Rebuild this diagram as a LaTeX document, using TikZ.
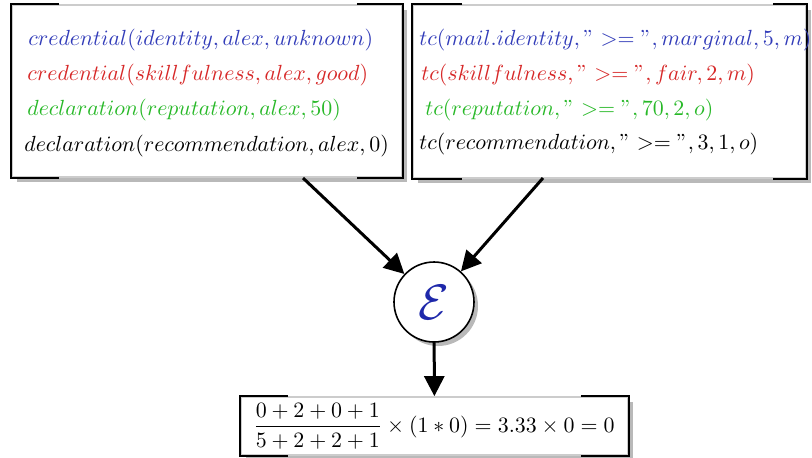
\documentclass[tikz,border=0pt]{standalone}
\usetikzlibrary{shadows,arrows.meta}
\definecolor{cblue}{RGB}{50,60,185}
\definecolor{cred}{RGB}{215,40,40}
\definecolor{cgreen}{RGB}{40,185,40}
\definecolor{eblue}{RGB}{30,40,170}
\begin{document}
\begin{tikzpicture}[x=0.5pt,y=-0.5pt,
  box/.style={rectangle, draw=black!20, line width=0.9pt, fill=white, inner sep=0pt,
    drop shadow={shadow xshift=2.5pt, shadow yshift=-2.5pt, opacity=0.55}},
  corner/.style={line width=1pt, black, line join=miter},
  tline/.style={anchor=base west, inner sep=0pt, font=\fontsize{10.7}{12}\selectfont},
  arr/.style={line width=1.5pt, -{Triangle[length=10pt,width=10pt]}},
  ecirc/.style={circle, draw, line width=0.8pt, fill=white, minimum size=40pt, inner sep=0pt,
    drop shadow={shadow xshift=2pt, shadow yshift=-2pt, opacity=0.55}}
]
\useasboundingbox (0,0) rectangle (812,457);

% left box
\node[box, minimum width=195pt, minimum height=86pt] (L) at (207,91) {};
\draw[corner] ([xshift=24pt]L.north west) -- (L.north west) -- (L.south west) -- ([xshift=24pt]L.south west);
\draw[corner] ([xshift=-23pt]L.north east) -- (L.north east) -- (L.south east) -- ([xshift=-23pt]L.south east);
\node[tline, cblue]  (l1) at (28,45)  {$credential(identity,alex,unknown)$};
\node[tline, cred]   (l2) at (27,80)  {$credential(skillfulness,alex,good)$};
\node[tline, cgreen] (l3) at (27,115) {$declaration(reputation,alex,50)$};
\node[tline, black]  (l4) at (24,151) {$declaration(recommendation,alex,0)$};

% right box
\node[box, minimum width=196.5pt, minimum height=86.5pt] (R) at (609.5,91.5) {};
\draw[corner] ([xshift=25pt]R.north west) -- (R.north west) -- (R.south west) -- ([xshift=25pt]R.south west);
\draw[corner] ([xshift=-17pt]R.north east) -- (R.north east) -- (R.south east) -- ([xshift=-17pt]R.south east);
\node[tline, cblue]  (r1) at (419,45)  {$tc(mail.identity,">=",marginal,5,m)$};
\node[tline, cred]   (r2) at (421,80)  {$tc(skillfulness,">=",fair,2,m)$};
\node[tline, cgreen] (r3) at (425,115) {$tc(reputation,">=",70,2,o)$};
\node[tline, black]  (r4) at (419,149) {$tc(recommendation,">=",3,1,o)$};

% evaluator
\node[ecirc] (E) at (434,302) {\fontsize{34}{34}\selectfont$\color{eblue}\mathcal{E}$};

% bottom box
\node[box, minimum width=193.5pt, minimum height=29pt] (B) at (434.5,426) {};
\draw[corner] ([xshift=24pt]B.north west) -- (B.north west) -- (B.south west) -- ([xshift=24pt]B.south west);
\draw[corner] ([xshift=-24pt]B.north east) -- (B.north east) -- (B.south east) -- ([xshift=-24pt]B.south east);
\node[inner sep=0pt, font=\fontsize{11}{13}\selectfont] (f) at (434,426)
  {$\displaystyle \frac{0+2+0+1}{5+2+2+1}\times(1*0)=3.33\times 0=0$};

% connectors
\coordinate (a1) at (303,178);
\coordinate (a2) at (543,178);
\draw[arr] (a1) -- (E);
\draw[arr] (a2) -- (E);
\draw[arr] (E) -- (B);
\end{tikzpicture}
\end{document}
